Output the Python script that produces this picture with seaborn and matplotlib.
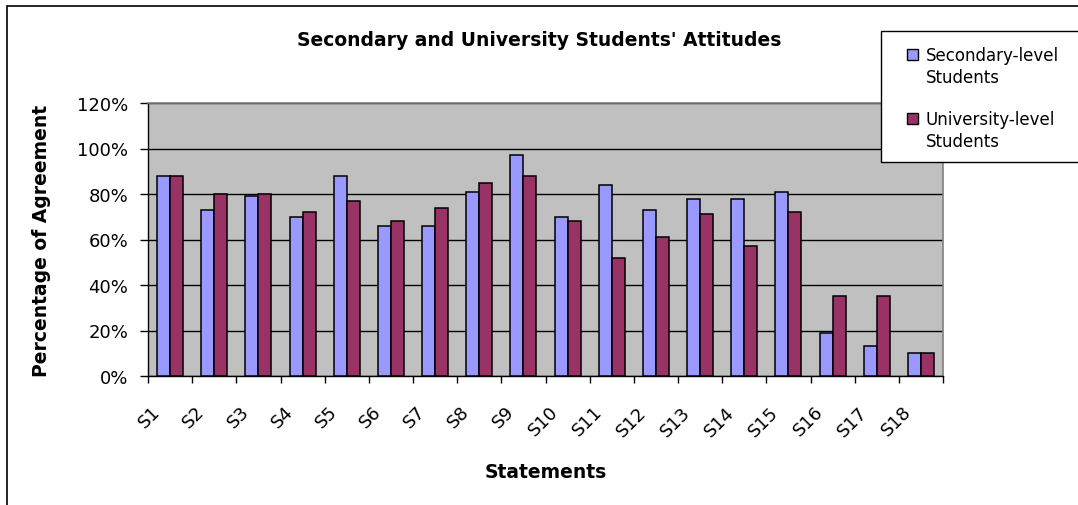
import matplotlib
matplotlib.use("Agg")
import matplotlib.pyplot as plt
import matplotlib.transforms as mtransforms
from matplotlib.patches import Rectangle, Patch
from matplotlib.legend_handler import HandlerPatch
from matplotlib.ticker import FuncFormatter, FixedLocator
import seaborn as sns
import pandas as pd

statements = ["S1", "S2", "S3", "S4", "S5", "S6", "S7", "S8", "S9", "S10",
              "S11", "S12", "S13", "S14", "S15", "S16", "S17", "S18"]
secondary = [88, 73, 79, 70, 88, 66, 66, 81, 97, 70,
             84, 73, 78, 78, 81, 19, 13, 10]
university = [88, 80, 80, 72, 77, 68, 74, 85, 88, 68,
              52, 61, 71, 57, 72, 35, 35, 10]
series_names = ["Secondary-level Students", "University-level Students"]
legend_labels = ["Secondary-level\nStudents", "University-level\nStudents"]
colors = ["#9999FF", "#993366"]

df = pd.DataFrame({
    "Statement": statements * 2,
    "Value": secondary + university,
    "Group": [series_names[0]] * len(statements) + [series_names[1]] * len(statements),
})

sns.set_theme(style="white")
plt.rcParams["font.family"] = ["DejaVu Sans"]
plt.rcParams["text.color"] = "black"
plt.rcParams["axes.labelcolor"] = "black"
plt.rcParams["xtick.color"] = "black"
plt.rcParams["ytick.color"] = "black"

W, H = 1078, 506
fig = plt.figure(figsize=(W / 100, H / 100), dpi=100)
fig.patch.set_facecolor("white")

def px(x0, y0, x1, y1):
    return [x0 / W, 1 - y1 / H, (x1 - x0) / W, (y1 - y0) / H]

# outer chart border (clipped at right/bottom like the reference)
fig.patches.append(Rectangle((7 / W, -0.1), 1.2, 1 - 7 / H + 0.1,
                             transform=fig.transFigure, fill=False,
                             edgecolor="black", linewidth=1.2, zorder=0))

ax = fig.add_axes(px(148, 104, 943, 377))
ax.set_facecolor("#C0C0C0")

sns.barplot(data=df, x="Statement", y="Value", hue="Group",
            order=statements, hue_order=series_names, palette=colors,
            saturation=1, width=0.59, edgecolor="black", linewidth=1.1,
            ax=ax, zorder=3)
if ax.legend_ is not None:
    ax.legend_.remove()

ax.set_xlim(-0.5, len(statements) - 0.5)
ax.set_ylim(0, 120)
ax.set_yticks([0, 20, 40, 60, 80, 100, 120])
ax.yaxis.set_major_formatter(FuncFormatter(lambda v, p: f"{int(v)}%"))
ax.yaxis.grid(True, color="black", linewidth=1)
ax.xaxis.grid(False)
ax.set_axisbelow(True)

for side in ["left", "bottom"]:
    ax.spines[side].set_color("black")
    ax.spines[side].set_linewidth(1)
for side in ["top", "right"]:
    ax.spines[side].set_color("#808080")
    ax.spines[side].set_linewidth(1.2)

ax.tick_params(axis="y", which="major", direction="out", length=5.8, width=1,
               color="black", pad=8.5, labelsize=13, left=True)
ax.xaxis.set_minor_locator(FixedLocator([i - 0.5 for i in range(len(statements) + 1)]))
ax.tick_params(axis="x", which="minor", direction="out", length=5, width=1,
               color="black", bottom=True)
ax.tick_params(axis="x", which="major", length=0, pad=19, labelsize=13)
offset = mtransforms.ScaledTranslation(-6 / 100, 0, fig.dpi_scale_trans)
for lab in ax.get_xticklabels():
    lab.set_rotation(45)
    lab.set_ha("right")
    lab.set_va("top")
    lab.set_transform(lab.get_transform() + offset)

ax.set_xlabel("Statements", fontsize=13.5, fontweight="bold")
ax.set_ylabel("Percentage of Agreement", fontsize=13.5, fontweight="bold")
ax.yaxis.set_label_coords((51 - 148) / 795, 0.5)
ax.xaxis.set_label_coords(0.5, (377 - 463) / 273)

fig.text(539 / W, 1 - 40 / H, "Secondary and University Students' Attitudes",
         ha="center", va="center", fontsize=13.5, fontweight="bold")

# legend box
fig.patches.append(Rectangle((881 / W, 1 - 163 / H), 0.3, (163 - 32) / H,
                             transform=fig.transFigure, facecolor="white",
                             edgecolor="black", linewidth=1, zorder=1))

def top_square(legend, orig_handle, xdescent, ydescent, width, height, fontsize):
    s = 8
    return Rectangle((-xdescent + (width - s) / 2, -ydescent + 9.0), s, s)

handles = [Patch(facecolor=c, edgecolor="black", linewidth=1) for c in colors]
leg = fig.legend(handles, legend_labels, loc="upper left",
                 bbox_to_anchor=(905 / W, 1 - 47 / H), bbox_transform=fig.transFigure,
                 frameon=False, fontsize=12, handlelength=0.85, handleheight=0.7,
                 handletextpad=0.4, labelspacing=1.44, borderpad=0, borderaxespad=0,
                 handler_map={Patch: HandlerPatch(patch_func=top_square)})
for t in leg.get_texts():
    t.set_linespacing(1.27)
leg.set_zorder(5)

fig.savefig("out.png", dpi=100)
